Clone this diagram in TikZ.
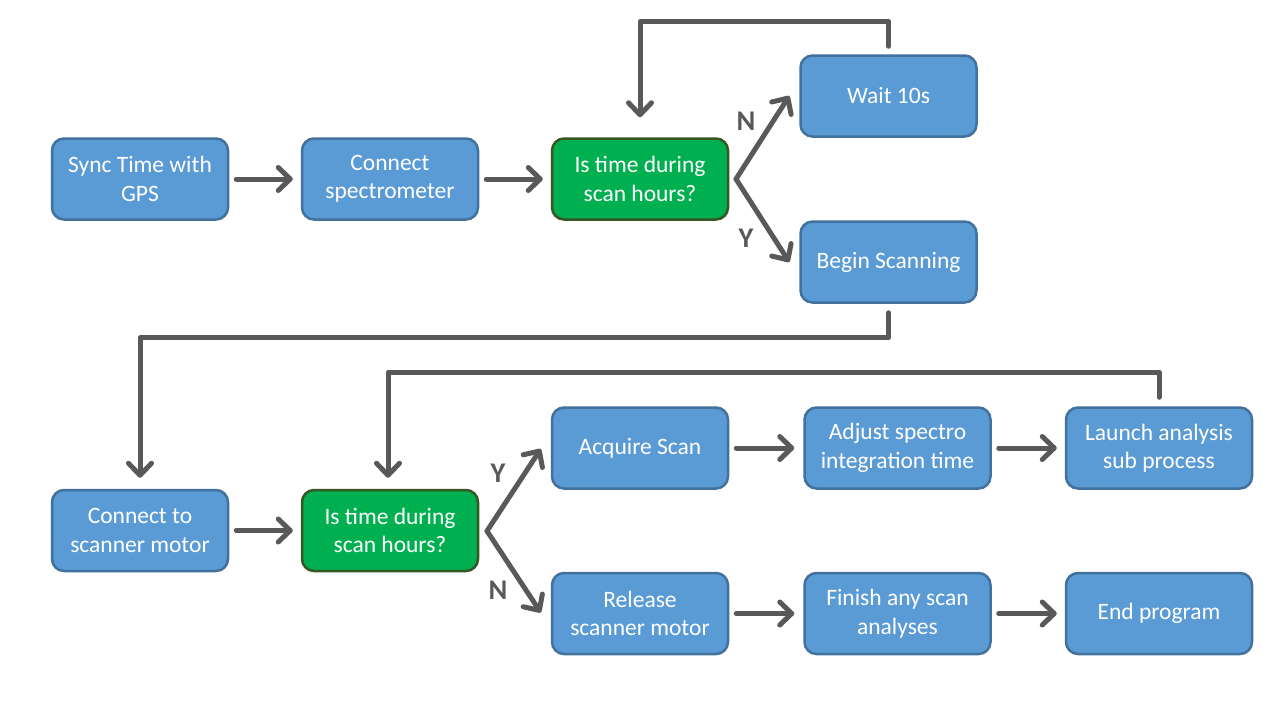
\documentclass[tikz,border=0pt]{standalone}
\usepackage{fontspec}
\setmainfont{Carlito}
\usetikzlibrary{arrows.meta}
\definecolor{boxblue}{HTML}{5B9BD5}
\definecolor{boxblueline}{HTML}{41719C}
\definecolor{boxgreen}{HTML}{00B050}
\definecolor{boxgreenline}{HTML}{375623}
\definecolor{linegray}{HTML}{595959}
\tikzset{
  base/.style={rounded corners=12pt, line width=2.5pt, text=white, align=center,
    minimum width=176pt, minimum height=81pt, inner sep=2pt,
    font=\fontsize{23.5}{28.5}\selectfont},
  bluebox/.style={base, fill=boxblue, draw=boxblueline},
  greenbox/.style={base, fill=boxgreen, draw=boxgreenline},
  arr/.style={draw=linegray, line width=5pt, line cap=round, line join=round,
    -{Straight Barb[length=12pt,width=23pt,line cap=round,line join=round]}},
  conn/.style={draw=linegray, line width=5pt, line cap=round, line join=round},
  lbl/.style={text=linegray, font=\fontsize{28.5}{30}\selectfont\bfseries}
}
\begin{document}
\begin{tikzpicture}[x=1pt,y=-1pt]
\useasboundingbox[fill=white] (0,0) rectangle (1280,720);
% row 1
\node[bluebox] (sync) at (140,179) {Sync Time with\\GPS};
\node[bluebox] (cspec) at (390,179) {Connect\\spectrometer};
\node[greenbox] (is1) at (640,179) {Is time during\\scan hours?};
\node[bluebox] (wait) at (888.5,96) {Wait 10s};
\node[bluebox] (begin) at (888.5,262) {Begin Scanning};
% row 2
\node[bluebox] (cmot) at (140,530.5) {Connect to\\scanner motor};
\node[greenbox] (is2) at (390,530.5) {Is time during\\scan hours?};
\node[bluebox] (acq) at (640,448) {Acquire Scan};
\node[bluebox, minimum width=186pt] (adj) at (897.5,448) {Adjust spectro\\integration time};
\node[bluebox, minimum width=186pt] (launch) at (1159,448) {Launch analysis\\sub process};
\node[bluebox] (rel) at (640,613.5) {Release\\scanner motor};
\node[bluebox, minimum width=186pt] (fin) at (897.5,613.5) {Finish any scan\\analyses};
\node[bluebox, minimum width=186pt] (endp) at (1159,613.5) {End program};
% branch points
\coordinate (b1) at (736,179);
\coordinate (b2) at (487,531);
% straight arrows
\draw[arr] ([xshift=7pt]sync.east) -- ([xshift=-8pt]cspec.west);
\draw[arr] ([xshift=7pt]cspec.east) -- ([xshift=-8pt]is1.west);
\draw[arr] ([xshift=7pt]cmot.east) -- ([xshift=-8pt]is2.west);
\draw[arr] ([xshift=7pt]acq.east) -- ([xshift=-9pt]adj.west);
\draw[arr] ([xshift=7pt]adj.east) -- ([xshift=-8pt]launch.west);
\draw[arr] ([xshift=7pt]rel.east) -- ([xshift=-9pt]fin.west);
\draw[arr] ([xshift=7pt]fin.east) -- ([xshift=-8pt]endp.west);
% decision 1
\draw[arr] (b1) -- ([xshift=-10pt]wait.west);
\draw[arr] (b1) -- ([xshift=-10pt]begin.west);
\node[lbl] (n1) at (746,121) {N};
\node[lbl] (y1) at (746,238) {Y};
% decision 2
\draw[arr] (b2) -- ([xshift=-10pt,yshift=-1pt]acq.west);
\draw[arr] (b2) -- ([xshift=-10pt,yshift=1pt]rel.west);
\node[lbl] (y2) at (498,473) {Y};
\node[lbl] (n2) at (498,590) {N};
% loops
\draw[arr] ([yshift=8pt]wait.north) -- ([yshift=33pt]wait.north) -| ([yshift=20pt]is1.north);
\draw[arr] ([yshift=-9pt]begin.south) -- ([yshift=-34pt]begin.south) -| ([yshift=11pt]cmot.north);
\draw[arr] ([yshift=9pt]launch.north) -- ([yshift=34pt]launch.north) -| ([xshift=-2pt,yshift=11pt]is2.north);
\end{tikzpicture}
\end{document}
